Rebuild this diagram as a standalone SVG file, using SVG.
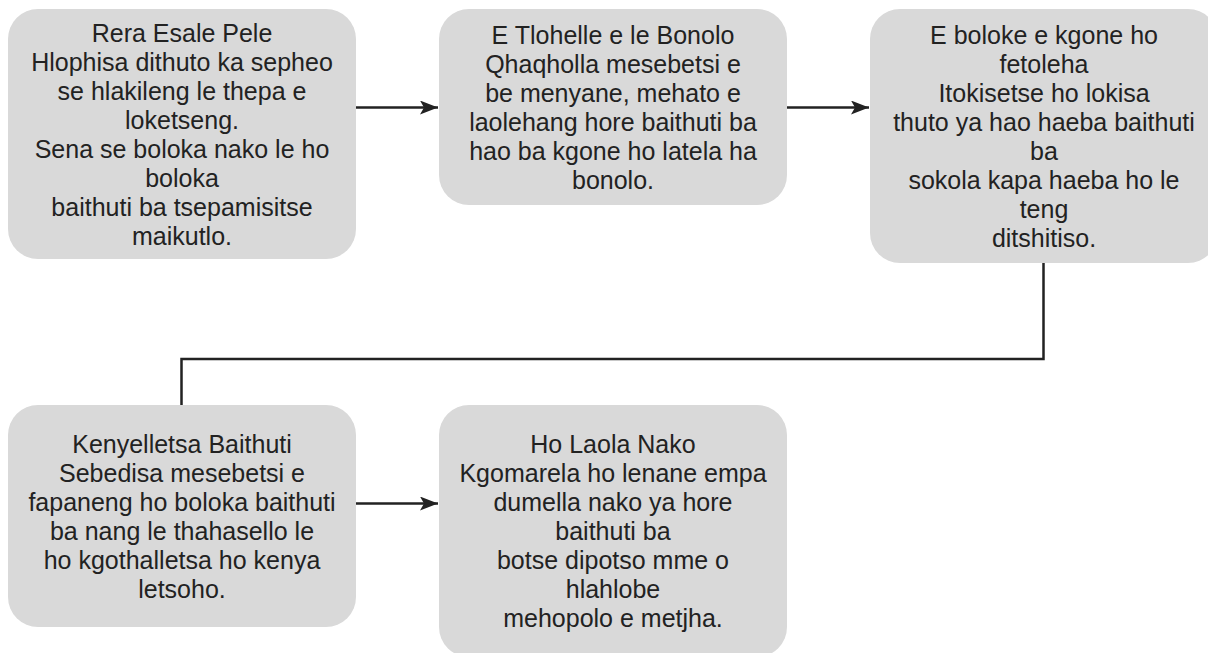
<svg xmlns="http://www.w3.org/2000/svg" width="1208" height="653" viewBox="0 0 1208 653">
<style>
.box{fill:#d9d9d9;}
.t{font-family:"Liberation Sans",Arial,sans-serif;font-size:25px;fill:#222;text-anchor:middle;}
.c{fill:none;stroke:#222;stroke-width:2.5;}
</style>
<defs>
<marker id="arr" markerUnits="userSpaceOnUse" markerWidth="20" markerHeight="16" refX="18" refY="7" orient="auto">
<path d="M0,0 L18,7 L0,14 L4,7 Z" fill="#222"/>
</marker>
</defs>
<rect width="1208" height="653" fill="#fff"/>
<g id="connectors">
<line class="c" x1="356" y1="107.5" x2="438" y2="107.5" marker-end="url(#arr)"/>
<line class="c" x1="787" y1="107.5" x2="869" y2="107.5" marker-end="url(#arr)"/>
<polyline class="c" points="1043.5,263 1043.5,359 181.5,359 181.5,405"/>
<line class="c" x1="356" y1="503.5" x2="438" y2="503.5" marker-end="url(#arr)"/>
</g>
<g id="node1">
<rect class="box" x="8" y="9" width="348" height="250" rx="30"/>
<text class="t" x="182" y="42">Rera Esale Pele<tspan x="182" dy="29">Hlophisa dithuto ka sepheo</tspan><tspan x="182" dy="29">se hlakileng le thepa e</tspan><tspan x="182" dy="29">loketseng.</tspan><tspan x="182" dy="29">Sena se boloka nako le ho</tspan><tspan x="182" dy="29">boloka</tspan><tspan x="182" dy="29">baithuti ba tsepamisitse</tspan><tspan x="182" dy="29">maikutlo.</tspan></text>
</g>
<g id="node2">
<rect class="box" x="439" y="9" width="348" height="196" rx="30"/>
<text class="t" x="613" y="44">E Tlohelle e le Bonolo<tspan x="613" dy="29">Qhaqholla mesebetsi e</tspan><tspan x="613" dy="29">be menyane, mehato e</tspan><tspan x="613" dy="29">laolehang hore baithuti ba</tspan><tspan x="613" dy="29">hao ba kgone ho latela ha</tspan><tspan x="613" dy="29">bonolo.</tspan></text>
</g>
<g id="node3">
<rect class="box" x="870" y="9" width="348" height="254" rx="30"/>
<text class="t" x="1044" y="44">E boloke e kgone ho<tspan x="1044" dy="29">fetoleha</tspan><tspan x="1044" dy="29">Itokisetse ho lokisa</tspan><tspan x="1044" dy="29">thuto ya hao haeba baithuti</tspan><tspan x="1044" dy="29">ba</tspan><tspan x="1044" dy="29">sokola kapa haeba ho le</tspan><tspan x="1044" dy="29">teng</tspan><tspan x="1044" dy="29">ditshitiso.</tspan></text>
</g>
<g id="node4">
<rect class="box" x="8" y="405" width="348" height="222" rx="30"/>
<text class="t" x="182" y="453">Kenyelletsa Baithuti<tspan x="182" dy="29">Sebedisa mesebetsi e</tspan><tspan x="182" dy="29">fapaneng ho boloka baithuti</tspan><tspan x="182" dy="29">ba nang le thahasello le</tspan><tspan x="182" dy="29">ho kgothalletsa ho kenya</tspan><tspan x="182" dy="29">letsoho.</tspan></text>
</g>
<g id="node5">
<rect class="box" x="439" y="405" width="348" height="252" rx="30"/>
<text class="t" x="613" y="453">Ho Laola Nako<tspan x="613" dy="29">Kgomarela ho lenane empa</tspan><tspan x="613" dy="29">dumella nako ya hore</tspan><tspan x="613" dy="29">baithuti ba</tspan><tspan x="613" dy="29">botse dipotso mme o</tspan><tspan x="613" dy="29">hlahlobe</tspan><tspan x="613" dy="29">mehopolo e metjha.</tspan></text>
</g>
</svg>
